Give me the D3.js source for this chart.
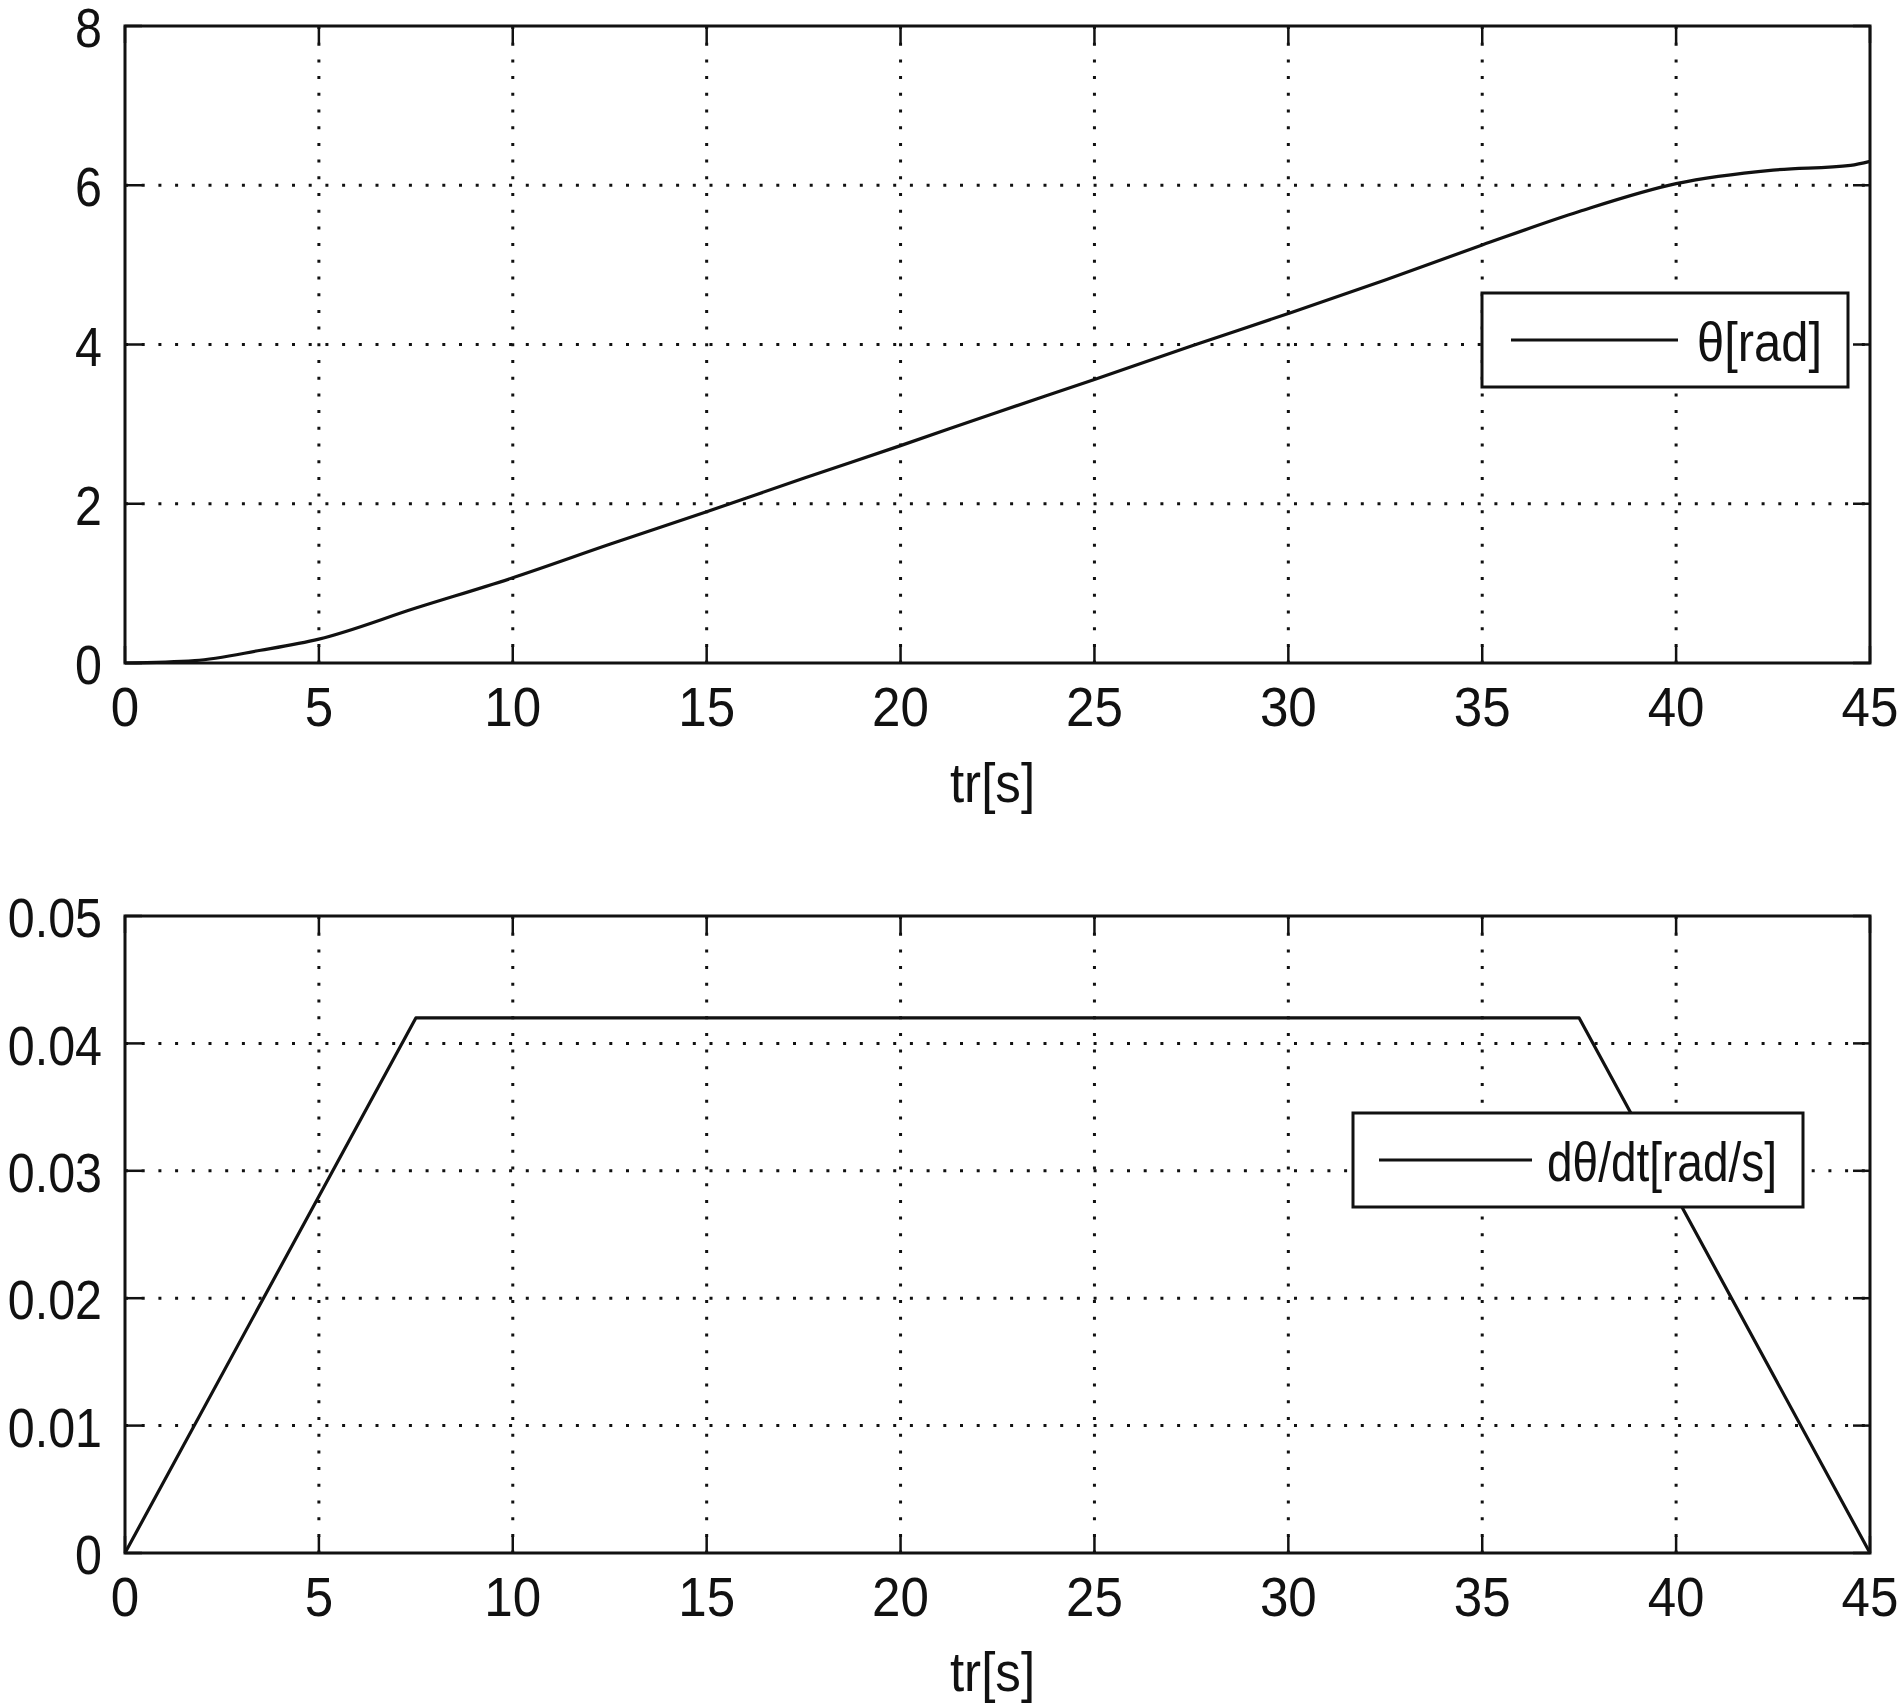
<!DOCTYPE html>
<html>
<head>
<meta charset="utf-8">
<script src="https://cdn.jsdelivr.net/npm/d3@7"></script>
<style>
  html, body { margin: 0; padding: 0; background: #fff; }
  svg { display: block; }
  text { font-family: "Liberation Sans", Arial, sans-serif; fill: #111; }
</style>
</head>
<body>
<script>
// ---- data ----
const thetaT   = [0, 1.8, 3.5, 5, 7.5, 10, 12.5, 15, 17.5, 20, 22.5, 25, 27.5, 30, 32.5, 35, 37.5, 40, 42.5, 44.5, 45];
const thetaV   = [0, 0.03, 0.16, 0.30, 0.69, 1.07, 1.49, 1.90, 2.32, 2.73, 3.15, 3.56, 3.98, 4.39, 4.81, 5.25, 5.67, 6.02, 6.19, 6.25, 6.30];
const omegaT   = [0, 7.5, 37.5, 45];
const omegaV   = [0, 0.042, 0.042, 0];
const xTicks   = [0, 5, 10, 15, 20, 25, 30, 35, 40, 45];
const yTicksTop = [0, 2, 4, 6, 8];
const yTickLabelsTop = ["0", "2", "4", "6", "8"];
const yTicksBot = [0, 0.01, 0.02, 0.03, 0.04, 0.05];
const yTickLabelsBot = ["0", "0.01", "0.02", "0.03", "0.04", "0.05"];
const xLabel = "tr[s]";
const legendTop = "θ[rad]";
const legendBot = "dθ/dt[rad/s]";

const W = 1902, H = 1703;
const svg = d3.select("body").append("svg").attr("width", W).attr("height", H);
svg.append("rect").attr("width", W).attr("height", H).attr("fill", "#fff");

const FONT = 55;

function panel(cfg) {
  const x = d3.scaleLinear().domain([0, 45]).range([125, 1870]);
  const y = d3.scaleLinear().domain(cfg.yDomain).range([cfg.yBottom, cfg.yTop]);
  const g = svg.append("g");
  const [x0, x1] = x.range();
  const yb = cfg.yBottom, yt = cfg.yTop;

  // grid (dotted)
  const gridX = xTicks.filter(v => v > 0 && v < 45);
  const gridY = cfg.yTicks.filter((v, i) => i > 0 && i < cfg.yTicks.length - 1);
  g.selectAll(".gx").data(gridX).join("line")
    .attr("x1", d => x(d)).attr("x2", d => x(d)).attr("y1", yt).attr("y2", yb)
    .attr("stroke", "#111").attr("stroke-width", 3).attr("stroke-dasharray", "3,13.7")
    .attr("stroke-linecap", "butt");
  g.selectAll(".gy").data(gridY).join("line")
    .attr("x1", x0).attr("x2", x1).attr("y1", d => y(d)).attr("y2", d => y(d))
    .attr("stroke", "#111").attr("stroke-width", 3).attr("stroke-dasharray", "3,13.7")
    .attr("stroke-linecap", "butt");

  // ticks inward on all four sides
  const TL = 17;
  const tk = g.append("g").attr("stroke", "#111").attr("stroke-width", 2.5);
  xTicks.forEach(v => {
    tk.append("line").attr("x1", x(v)).attr("x2", x(v)).attr("y1", yb).attr("y2", yb - TL);
    tk.append("line").attr("x1", x(v)).attr("x2", x(v)).attr("y1", yt).attr("y2", yt + TL);
  });
  cfg.yTicks.forEach(v => {
    tk.append("line").attr("x1", x0).attr("x2", x0 + TL).attr("y1", y(v)).attr("y2", y(v));
    tk.append("line").attr("x1", x1).attr("x2", x1 - TL).attr("y1", y(v)).attr("y2", y(v));
  });

  // data line
  const line = d3.line().x(d => x(d[0])).y(d => y(d[1])).curve(cfg.curve);
  const pts = cfg.t.map((t, i) => [t, cfg.v[i]]);
  g.append("path").datum(pts).attr("d", line)
    .attr("fill", "none").attr("stroke", "#111").attr("stroke-width", 3.2)
    .attr("stroke-linejoin", "round");

  // box
  g.append("rect").attr("x", x0).attr("y", yt).attr("width", x1 - x0).attr("height", yb - yt)
    .attr("fill", "none").attr("stroke", "#111").attr("stroke-width", 3);

  // tick labels
  g.selectAll(".xl").data(xTicks).join("text")
    .attr("transform", d => `translate(${x(d)},${yb + 44}) scale(0.93,1)`)
    .attr("text-anchor", "middle").attr("dominant-baseline", "central")
    .attr("font-size", FONT).text(d => String(d));
  g.selectAll(".yl").data(cfg.yTicks).join("text")
    .attr("transform", d => `translate(102,${y(d) + 2}) scale(0.88,1)`)
    .attr("text-anchor", "end").attr("dominant-baseline", "central")
    .attr("font-size", FONT).text((d, i) => cfg.yLabels[i]);

  // x label
  g.append("text")
    .attr("transform", `translate(${(x0 + x1) / 2 - 5},${cfg.xLabelY}) scale(0.93,1)`)
    .attr("text-anchor", "middle").attr("dominant-baseline", "central")
    .attr("font-size", FONT).text(xLabel);

  // legend
  const L = cfg.legend;
  const lg = g.append("g");
  lg.append("rect").attr("x", L.x).attr("y", L.y).attr("width", L.w).attr("height", L.h)
    .attr("fill", "#fff").attr("stroke", "#111").attr("stroke-width", 3);
  lg.append("line").attr("x1", L.lx1).attr("x2", L.lx2).attr("y1", L.y + L.h / 2).attr("y2", L.y + L.h / 2)
    .attr("stroke", "#111").attr("stroke-width", 3);
  lg.append("text").attr("x", L.tx).attr("y", L.y + L.h / 2 + 2)
    .attr("dominant-baseline", "central").attr("font-size", FONT)
    .attr("textLength", L.tw).attr("lengthAdjust", "spacingAndGlyphs")
    .text(L.text);
}

panel({
  yDomain: [0, 8], yTop: 26, yBottom: 663,
  yTicks: yTicksTop, yLabels: yTickLabelsTop,
  t: thetaT, v: thetaV, xLabelY: 783, curve: d3.curveMonotoneX,
  legend: { x: 1482, y: 293, w: 366, h: 94, lx1: 1511, lx2: 1678, tx: 1697, tw: 125, text: legendTop }
});

panel({
  yDomain: [0, 0.05], yTop: 916, yBottom: 1553,
  yTicks: yTicksBot, yLabels: yTickLabelsBot,
  t: omegaT, v: omegaV, xLabelY: 1672, curve: d3.curveLinear,
  legend: { x: 1353, y: 1113, w: 450, h: 94, lx1: 1379, lx2: 1532, tx: 1547, tw: 230, text: legendBot }
});
</script>
</body>
</html>
